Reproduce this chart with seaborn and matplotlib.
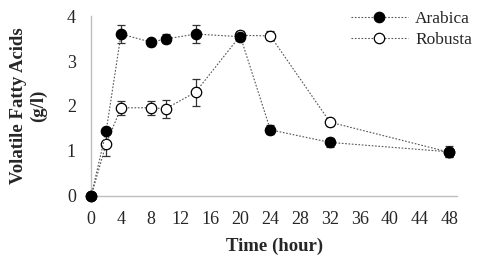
import numpy as np
import pandas as pd
import seaborn as sns
import matplotlib.pyplot as plt

# data
time = [0, 2, 4, 8, 10, 14, 20, 24, 32, 48]
arabica = [0, 1.44, 3.6, 3.42, 3.49, 3.6, 3.54, 1.47, 1.19, 0.98]
arabica_err = [0, 0.05, 0.2, 0.08, 0.1, 0.2, 0.1, 0.1, 0.1, 0.12]
robusta = [0, 1.16, 1.96, 1.96, 1.94, 2.31, 3.57, 3.56, 1.64, 0.97]
robusta_err = [0, 0.27, 0.15, 0.15, 0.2, 0.3, 0.1, 0.1, 0.08, 0.1]
xticks = list(range(0, 49, 4))
yticks = [0, 1, 2, 3, 4]

sns.set_style("white")
plt.rcParams['font.family'] = ['Liberation Serif', 'DejaVu Serif']

fig = plt.figure(figsize=(4.8, 2.63), dpi=100)
ax = fig.add_axes([0.19, 0.255, 0.762, 0.684])

# robusta first so the arabica dot at t=0 sits on top
series = [("Robusta", robusta, robusta_err, "white", 3),
          ("Arabica", arabica, arabica_err, "black", 4)]
for name, vals, err, face, z in series:
    df = pd.DataFrame({"time": time, "vfa": vals})
    ax.errorbar(df["time"], df["vfa"], yerr=err, fmt="none", ecolor="#333333",
                elinewidth=0.9, capsize=3, capthick=0.9, zorder=2)
    sns.lineplot(data=df, x="time", y="vfa", ax=ax, color="#555555", lw=0.8,
                 linestyle=(0, (1.5, 1.5)), marker="o", markersize=7.5,
                 markerfacecolor=face, markeredgecolor="black", markeredgewidth=0.9,
                 label=name, zorder=z)

for ln in ax.get_lines():
    ln.set_clip_on(False)

ax.set_xlim(0, 49)
ax.set_ylim(0, 4)
ax.set_xticks(xticks)
ax.set_yticks(yticks)
ax.tick_params(axis="x", length=0, labelsize=13, pad=11)
ax.tick_params(axis="y", length=0, labelsize=13, pad=11)
for s in ["top", "right"]:
    ax.spines[s].set_visible(False)
for s in ["left", "bottom"]:
    ax.spines[s].set_color("#bfbfbf")
    ax.spines[s].set_linewidth(1)
    ax.spines[s].set_zorder(0)
ax.set_xlabel("Time (hour)", fontsize=13.5, fontweight="bold", labelpad=7)
ax.set_ylabel("Volatile Fatty Acids\n(g/l)", fontsize=13.5, fontweight="bold",
              labelpad=14, linespacing=1.25)

# legend in original order
handles, labels = ax.get_legend_handles_labels()
order = [labels.index("Arabica"), labels.index("Robusta")]
ax.legend([handles[i] for i in order], [labels[i] for i in order],
          loc="upper right", bbox_to_anchor=(1.06, 1.065), frameon=False,
          fontsize=12.5, handlelength=3.3, handletextpad=0.4,
          labelspacing=0.25, borderaxespad=0)

fig.savefig("out.png", dpi=100)
